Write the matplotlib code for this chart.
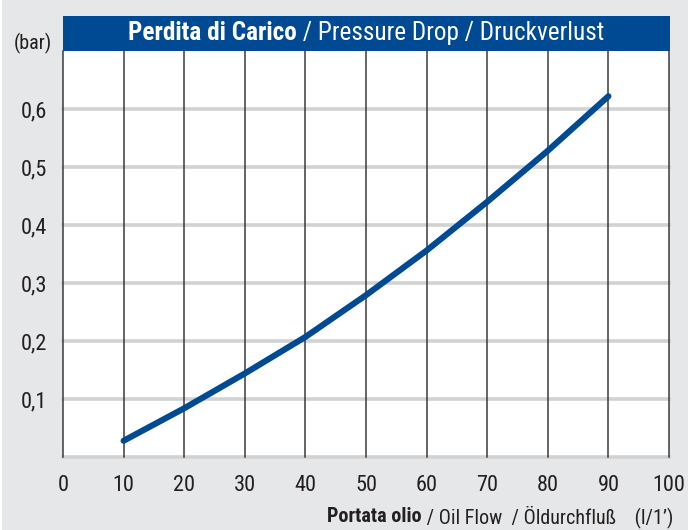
import matplotlib
matplotlib.use("Agg")
import matplotlib.pyplot as plt
from matplotlib.patches import Rectangle
from matplotlib import font_manager

# ---- data ----
flow = [10, 20, 30, 40, 50, 60, 70, 80, 90]
pressure = [0.028, 0.084, 0.144, 0.207, 0.279, 0.356, 0.440, 0.528, 0.622]
x_ticks = [0, 10, 20, 30, 40, 50, 60, 70, 80, 90, 100]
y_ticks = [0.1, 0.2, 0.3, 0.4, 0.5, 0.6]
y_tick_labels = ["0,1", "0,2", "0,3", "0,4", "0,5", "0,6"]
title_bold = "Perdita di Carico"
title_rest = " / Pressure Drop / Druckverlust"
xlabel_bold = "Portata olio"
xlabel_rest = " / Oil Flow  / Öldurchfluß    (l/1’)"
unit_label = "(bar)"

# ---- fonts ----
avail = {f.name for f in font_manager.fontManager.ttflist}
fam = "DejaVu Sans"
for cand in ["Roboto Condensed", "Liberation Sans Narrow", "Open Sans Condensed",
             "DejaVu Sans Condensed", "Roboto"]:
    if cand in avail:
        fam = cand
        break
plt.rcParams["font.family"] = [fam, "DejaVu Sans"]

W, H = 699, 530
fig = plt.figure(figsize=(W / 100, H / 100), dpi=100, facecolor="white")

# grey background panel
fig.patches.append(Rectangle((2 / W, 0), (688 - 2) / W, 1, transform=fig.transFigure,
                             facecolor="#e6e7e8", edgecolor="none", zorder=-5))

BLUE = "#004a93"
TXT = "#231f20"

left, right, top, bottom = 63, 669, 51, 457
ax = fig.add_axes([left / W, 1 - bottom / H, (right - left) / W, (bottom - top) / H])
ax.set_zorder(2)
ax.set_facecolor("white")
ax.set_xlim(0, 100)
ax.set_ylim(0, 0.7)
for s in ax.spines.values():
    s.set_visible(False)

# horizontal grey grid lines (incl. baseline)
for yv in [0] + y_ticks:
    ax.axhline(yv, color="#d1d2d4", lw=2.6, zorder=1, clip_on=False)
# vertical dark lines
for xv in x_ticks:
    ax.axvline(xv, color="#3a3a3a", lw=1.1, zorder=2, clip_on=False)

ax.plot(flow, pressure, color=BLUE, lw=4.4, solid_capstyle="round",
        solid_joinstyle="round", zorder=3)

ax.set_xticks(x_ticks)
ax.set_xticklabels([str(v) for v in x_ticks])
ax.set_yticks(y_ticks)
ax.set_yticklabels(y_tick_labels)
ax.tick_params(axis="both", length=0, labelsize=16, colors=TXT)
ax.tick_params(axis="x", pad=13)
ax.tick_params(axis="y", pad=11.5)

# unit label
fig.text(52 / W, 1 - 43 / H, unit_label, ha="right", va="center", fontsize=14.5, color=TXT)

# title bar
fig.patches.append(Rectangle((left / W, 1 - 51 / H), (670 - left) / W, 35 / H,
                             transform=fig.transFigure, facecolor=BLUE,
                             edgecolor="none", zorder=1))

fig.canvas.draw()
r = fig.canvas.get_renderer()

def two_part(xpix, ypix, bold, rest, size, color, align, target_w):
    tb = fig.text(0, 1 - ypix / H, bold, fontsize=size, fontweight="bold", color=color,
                  ha="left", va="center", zorder=5)
    tr = fig.text(0, 1 - ypix / H, rest, fontsize=size, color=color,
                  ha="left", va="center", zorder=5)
    total = tb.get_window_extent(r).width + tr.get_window_extent(r).width
    s = min(size, size * target_w / total)
    tb.set_fontsize(s)
    tr.set_fontsize(s)
    wb = tb.get_window_extent(r).width
    wr = tr.get_window_extent(r).width
    total = wb + wr
    x0 = xpix - total / 2 if align == "center" else xpix - total
    tb.set_x(x0 / W)
    tr.set_x((x0 + wb) / W)

two_part((63 + 670) / 2, 33, title_bold, title_rest, 20, "white", "center", 477)
two_part(673, 517, xlabel_bold, xlabel_rest, 15, TXT, "right", 345)

fig.savefig("out.png", dpi=100, facecolor="white")
